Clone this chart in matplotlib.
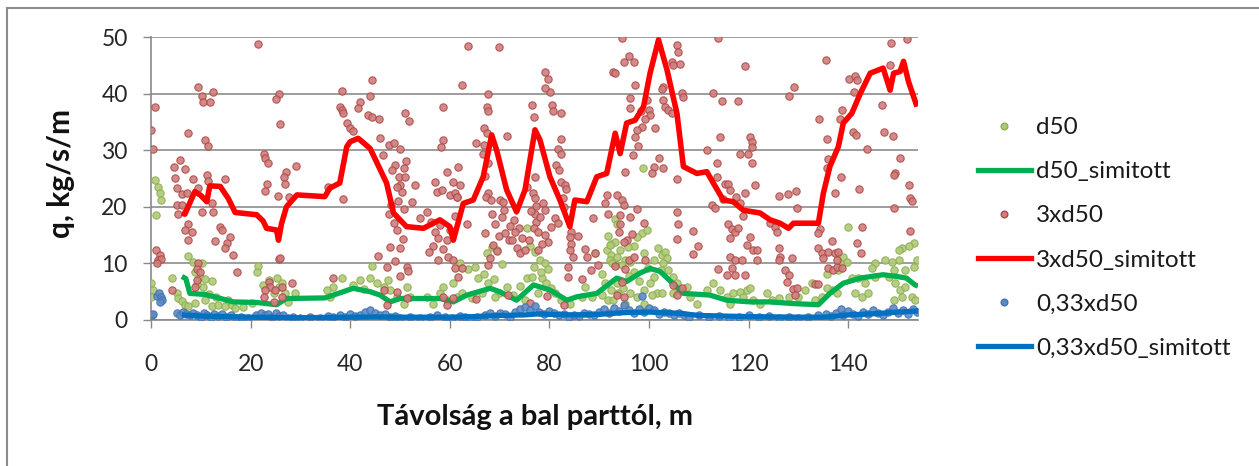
import numpy as np
import matplotlib
matplotlib.use("Agg")
import matplotlib.pyplot as plt
from matplotlib.lines import Line2D

# ---------------- data ----------------
d50_pts = [
    (0.8,24.7),(1.5,23.5),(1.8,22.4),(2.1,21.2),(1.1,18.5),(0.1,6.5),(0.5,5.3),(0.0,4.1),
    (7.5,11.3),(8.5,10.2),(10.2,10.1),(8.8,8.5),(9.8,7.6),(10.8,7.2),(12.2,6.9),(10.5,5.9),
    (4.2,7.4),(5.2,4.8),(5.5,3.9),(6.2,3.3),(6.8,2.7),(7.5,2.4),(8.8,3.0),(10.8,3.6),
    (12.2,2.4),(13.5,2.7),(14.9,2.4),(16.2,2.7),(16.9,2.1),(21.5,9.6),(21.2,8.5),
    (23.6,7.1),(25.2,7.4),(25.6,5.9),(24.6,4.7),(27.0,4.7),(27.6,3.2),(28.9,4.7),
    (9.3,6.3),(11.6,4.6),(13.0,4.1),(15.5,3.6),(18.5,2.3),(20.2,3.0),(22.4,6.2),(26.3,6.6),
    (44.3,9.5),(41.9,7.1),(43.9,7.4),(45.3,6.5),(46.7,5.9),(38.3,7.4),(36.6,5.9),(35.3,5.3),
    (36.0,4.1),(48.0,5.3),(49.3,4.1),(51.3,5.9),(52.0,4.1),(50.7,2.9),(55.4,4.1),(58.0,4.7),
    (58.7,5.9),(59.4,3.5),(60.7,6.5),(61.4,4.1),(56.7,2.9),(40.5,6.2),(42.8,5.4),(47.5,7.0),
    (62.0,10.0),(63.7,9.0),(65.1,9.3),(65.7,7.4),(67.7,6.5),(66.4,4.7),(64.4,3.9),(62.4,4.7),
    (71.4,5.9),(69.8,4.7),(69.1,4.1),(67.4,11.8),(68.4,12.9),(69.4,12.4),(70.4,9.9),
    (75.4,16.2),(76.1,13.0),(77.1,12.1),(78.1,10.6),(79.1,10.0),(79.8,9.0),(75.4,7.4),
    (76.4,7.6),(78.5,7.4),(79.4,6.5),(80.4,5.6),(81.1,4.7),(82.4,3.5),(77.8,4.7),(75.1,3.5),
    (87.2,5.9),(88.5,4.1),(86.5,4.1),(84.1,2.9),(91.8,14.8),(92.4,13.5),(91.5,12.4),
    (92.4,11.5),(92.1,10.6),(93.1,10.0),(90.5,8.2),(91.1,6.5),(92.4,5.3),(90.5,4.4),
    (91.8,3.5),(89.1,11.8),(66.8,8.2),(68.9,7.3),(72.6,4.5),(74.0,6.0),(76.9,9.4),(78.3,8.5),
    (98.7,26.8),(93.2,17.9),(93.5,17.0),(98.5,15.3),(99.5,15.9),(97.5,14.7),(93.2,13.8),
    (92.2,13.2),(94.2,12.3),(93.5,11.2),(95.2,10.6),(92.5,10.0),(94.5,9.7),(96.2,10.3),
    (96.9,13.0),(98.9,11.8),(100.9,10.6),(102.6,11.5),(103.3,12.1),(103.6,10.9),(102.9,10.0),
    (102.3,8.8),(100.9,7.6),(100.2,6.5),(101.5,4.7),(100.5,4.4),(98.9,5.3),(103.9,8.8),
    (104.9,7.6),(105.6,6.5),(106.2,5.3),(104.9,4.7),(102.6,4.7),(97.5,4.1),(96.2,4.7),
    (94.8,5.6),(93.5,6.5),(93.8,4.7),(92.8,3.5),(95.2,2.9),(98.9,2.9),(107.6,5.9),(108.2,4.1),
    (109.6,2.9),(111.6,5.3),(112.9,6.5),(114.3,5.3),(115.6,4.1),(116.9,4.7),(118.3,5.0),
    (118.9,4.1),(119.6,5.3),(120.3,5.6),(120.9,3.5),(122.3,2.9),(123.6,4.7),(116.3,2.9),
    (95.8,12.9),(97.0,8.4),(99.8,9.2),(101.8,12.8),(97.9,6.9),(95.9,7.8),
    (139.9,16.4),(153.1,13.6),(152.1,13.0),(150.7,12.7),(150.1,12.4),(153.7,10.6),(153.1,9.3),
    (151.4,8.8),(150.1,10.6),(148.7,10.3),(147.4,10.6),(145.4,10.0),(149.1,8.8),(148.1,7.6),
    (149.4,6.5),(150.4,5.3),(150.7,4.1),(149.1,3.5),(151.4,5.9),(152.8,4.1),(153.4,3.5),
    (139.0,11.2),(139.7,10.3),(138.4,10.0),(138.0,8.8),(135.7,8.2),(140.7,7.4),(142.0,7.4),
    (143.4,6.5),(144.7,9.1),(145.4,7.6),(141.4,4.7),(142.7,4.1),(144.0,4.7),(136.7,5.3),
    (137.7,4.7),(135.7,5.6),(134.7,4.1),(133.3,3.5),(130.0,4.1),(128.0,4.1),(126.0,3.8),
    (124.6,3.5),(131.3,5.3),(132.7,6.5),
]

d50_sm_x = [6.2, 7.0, 7.8, 11.0, 16.5, 21.2, 25.2, 27.2, 34.9, 38.6, 40.6, 44.0, 46.0, 48.0,
            50.0, 58.0, 60.7, 63.4, 68.1, 70.0, 73.4, 76.8, 80.1, 83.5, 85.5, 89.5, 93.5,
            95.5, 98.2, 100.2, 102.2, 106.9, 112.2, 115.6, 120.3, 124.3, 129.0, 134.0,
            136.3, 139.0, 142.4, 147.0, 149.7, 151.7, 153.4, 154.0]
d50_sm_y = [7.7, 7.3, 4.7, 4.5, 3.2, 3.1, 2.7, 3.8, 3.9, 5.0, 5.6, 5.0, 4.4, 3.2,
            3.8, 3.8, 3.2, 4.4, 5.6, 5.0, 3.5, 6.2, 5.3, 3.5, 4.1, 4.7, 7.4,
            6.8, 8.3, 9.1, 8.6, 4.7, 4.4, 3.5, 3.2, 3.2, 2.9, 2.7,
            4.7, 6.5, 7.4, 8.0, 7.7, 7.4, 6.2, 6.0]

d3_pts = [
    (21.5,48.8),(9.5,41.2),(10.2,39.5),(10.5,38.6),(11.9,38.6),(12.5,40.3),(0.8,37.6),
    (0.1,33.6),(0.5,30.2),(7.5,33.1),(10.8,31.8),(11.5,30.7),(25.6,40.0),(25.1,39.1),
    (26.0,34.6),(22.6,29.4),(22.9,28.6),(23.4,27.7),(29.2,27.2),(27.2,26.2),(26.8,25.3),
    (26.9,24.1),(23.2,24.1),(22.9,22.8),(25.4,21.9),(27.8,21.7),(5.8,28.2),(4.7,27.1),
    (6.8,26.6),(4.8,25.1),(5.2,23.4),(8.5,24.9),(11.2,25.6),(11.4,24.6),(14.9,24.9),
    (9.5,23.3),(6.2,22.2),(7.2,22.5),(5.2,20.3),(6.2,20.3),(5.5,18.8),(12.2,20.6),
    (12.5,19.1),(10.2,19.0),(7.5,17.0),(6.8,15.9),(8.2,15.6),(7.5,14.1),(13.9,16.4),
    (14.2,15.9),(12.9,14.0),(15.9,14.6),(15.2,13.6),(14.9,12.7),(16.5,11.5),(1.1,12.4),
    (1.8,11.5),(1.5,10.6),(2.1,10.7),(1.3,10.1),(9.5,10.0),(9.2,9.0),(9.8,8.5),(8.8,5.9),
    (9.2,7.1),(4.2,5.3),(17.2,8.4),(25.6,10.7),(25.9,11.0),(23.6,6.8),(23.9,5.9),(22.9,5.3),
    (24.9,5.3),(26.3,5.9),(28.3,6.5),(22.6,4.1),(24.6,3.2),(26.3,4.1),
    (44.3,42.4),(38.3,40.5),(38.0,37.6),(38.3,37.1),(38.6,36.6),(42.0,38.6),(41.6,37.4),
    (43.9,39.5),(43.6,36.2),(44.3,35.8),(45.7,35.6),(39.3,34.8),(40.0,34.0),(40.6,33.4),
    (51.0,36.5),(51.9,35.2),(46.0,32.1),(47.7,30.9),(48.7,31.3),(49.9,30.2),(51.2,28.1),
    (46.5,29.1),(49.0,27.4),(48.3,26.5),(49.7,25.3),(50.0,23.8),(50.4,22.7),(50.7,26.9),
    (51.0,25.3),(49.3,23.5),(38.6,21.3),(35.6,23.5),(47.7,18.8),(48.7,17.1),(49.3,15.9),
    (50.0,12.7),(48.0,12.9),(58.7,37.7),(58.7,31.8),(58.3,30.6),(61.7,27.1),(59.4,26.2),
    (57.4,22.7),(58.4,23.0),(60.0,22.1),(61.0,22.4),(61.4,21.8),(53.0,23.9),(57.0,24.4),
    (60.7,24.3),(55.4,19.0),(57.0,15.6),(57.7,14.4),(59.4,14.1),(56.7,13.0),(58.7,12.6),
    (59.7,11.2),(60.7,10.6),(61.0,9.1),(57.7,10.6),(45.5,11.3),(47.3,9.3),(51.3,9.4),
    (51.6,8.7),(50.0,7.8),(36.5,7.4),(46.7,5.3),(47.3,2.6),(49.3,4.9),(51.3,3.8),(58.7,4.1),
    (59.4,2.6),(60.7,3.8),(49.6,21.0),(50.8,19.6),(48.1,20.4),(56.2,17.4),(58.1,16.8),
    (60.1,15.9),(52.4,20.8),(54.0,18.1),(55.8,12.1),(50.6,14.3),(49.0,10.4),
    (63.6,48.4),(69.8,48.2),(62.4,41.5),(67.7,39.9),(67.4,37.7),(67.6,36.9),(66.9,34.0),
    (67.4,33.0),(71.4,32.5),(65.2,31.3),(66.9,30.9),(66.7,29.3),(67.7,27.7),(67.1,25.4),
    (67.6,22.4),(67.2,21.8),(68.3,21.2),(68.4,18.8),(70.1,21.2),(70.7,20.9),(69.1,17.0),
    (70.4,18.2),(63.4,17.0),(62.0,23.9),(61.4,21.8),(61.0,18.3),(69.8,14.8),(71.1,15.4),
    (71.8,14.2),(68.7,13.3),(69.4,12.2),(68.1,11.0),(67.7,9.8),(67.1,15.4),(72.8,17.6),
    (73.8,16.2),(73.1,15.6),(72.4,14.1),(74.4,14.4),(73.4,12.7),(74.1,11.8),(75.1,12.4),
    (79.1,43.9),(79.8,42.5),(80.1,40.2),(79.1,41.0),(76.5,38.0),(76.8,35.8),(80.5,38.0),
    (80.8,36.9),(82.3,36.5),(82.4,31.9),(81.8,30.3),(82.3,29.4),(81.4,27.3),(81.9,26.5),
    (82.4,24.3),(83.1,23.9),(83.4,23.1),(82.7,21.5),(77.1,25.3),(76.6,22.4),(77.1,21.5),
    (77.4,20.1),(78.8,20.6),(79.1,19.4),(77.1,18.8),(77.4,17.3),(76.8,16.2),(77.8,15.6),
    (79.1,15.0),(79.8,13.8),(78.5,13.5),(77.8,12.4),(75.4,23.5),(81.1,18.0),(81.8,17.2),
    (84.4,15.6),(84.1,14.7),(84.4,13.5),(84.1,12.4),(84.7,11.2),(83.8,9.4),(87.2,12.6),
    (87.5,11.2),(89.1,11.8),(88.4,8.9),(89.8,9.8),(88.8,18.0),(91.5,22.1),(91.1,20.6),
    (91.8,18.7),(92.8,43.9),(86.5,7.3),(83.8,7.6),(62.4,9.1),(61.7,7.6),(70.9,19.5),
    (72.0,16.6),(75.9,14.1),(76.2,19.3),(78.2,18.2),(80.3,16.4),(83.0,19.9),(85.8,14.9),
    (65.3,3.7),(71.6,4.4),(76.0,3.0),(79.6,4.2),(82.9,2.6),
    (94.5,49.8),(113.9,49.8),(105.6,48.6),(105.9,47.4),(106.2,45.3),(104.6,45.6),(104.9,45.0),
    (95.9,46.6),(96.9,45.6),(94.9,45.5),(93.2,43.7),(97.2,41.5),(119.3,44.9),(102.9,41.2),
    (102.5,40.9),(106.6,40.1),(106.9,39.4),(112.9,40.1),(114.6,38.7),(117.9,38.7),(96.2,39.2),
    (96.2,37.4),(99.5,38.9),(99.9,37.1),(100.2,36.2),(99.2,35.6),(98.5,34.1),(97.5,33.5),
    (97.2,32.4),(102.9,38.9),(103.3,37.7),(103.9,37.1),(104.6,36.5),(96.7,29.2),(101.9,28.6),
    (100.9,27.1),(100.5,26.0),(102.9,26.8),(105.6,25.0),(114.3,32.3),(111.6,30.1),(113.6,27.7),
    (120.3,32.4),(120.6,31.5),(120.6,30.6),(119.9,29.4),(118.3,29.4),(120.6,27.8),(113.6,25.3),
    (115.3,24.1),(115.9,24.0),(119.3,22.5),(117.5,21.8),(118.3,20.7),(121.3,23.8),(112.6,20.3),
    (113.3,19.7),(93.5,22.1),(94.5,21.2),(94.9,20.3),(105.6,19.1),(105.9,17.0),(108.9,15.8),
    (105.6,14.3),(109.9,13.1),(108.9,11.7),(94.2,18.5),(96.2,18.2),(98.9,17.2),(94.2,17.0),
    (93.9,15.6),(95.5,14.2),(94.9,13.8),(115.9,17.0),(116.6,16.0),(117.2,15.6),(117.9,16.2),
    (116.2,14.4),(120.3,14.7),(119.6,13.2),(120.9,12.3),(121.6,12.3),(116.2,11.2),(117.2,10.6),
    (118.6,10.6),(116.6,9.1),(117.2,8.0),(119.3,8.0),(121.6,10.6),(95.9,10.6),(96.9,11.2),
    (99.2,10.6),(95.2,9.0),(93.2,9.6),(94.5,6.8),(93.5,4.4),(94.9,4.1),(113.9,9.0),(115.6,8.0),
    (104.9,6.2),(105.6,4.4),(106.6,5.6),(97.8,30.8),(98.3,36.9),(101.1,33.9),(95.1,26.2),
    (114.8,21.4),(116.3,22.9),(118.8,18.3),(96.6,15.2),(97.6,19.6),
    (151.7,49.6),(148.6,49.0),(135.6,46.0),(148.4,45.1),(140.2,42.5),(141.4,43.1),(141.7,42.4),
    (141.2,40.3),(129.2,41.2),(128.1,39.5),(146.7,38.0),(138.7,37.1),(138.4,35.6),(134.2,35.6),
    (140.9,33.3),(141.6,32.7),(147.2,33.3),(148.9,32.5),(135.7,31.9),(143.7,30.3),(136.0,28.5),
    (135.7,26.8),(150.4,28.7),(149.4,26.0),(149.1,25.6),(138.6,25.3),(142.2,23.1),(137.4,22.4),
    (152.2,23.8),(152.4,21.5),(152.7,21.1),(126.0,21.9),(127.9,22.3),(129.5,22.8),(129.7,19.7),
    (149.1,19.7),(124.3,17.2),(125.3,16.5),(125.6,15.6),(134.3,16.1),(134.0,15.3),(142.7,16.5),
    (152.4,15.8),(136.7,14.0),(141.7,13.6),(126.0,12.7),(126.3,11.2),(126.0,10.6),(128.7,11.0),
    (134.0,12.7),(134.7,11.8),(135.0,11.0),(136.0,12.1),(137.4,11.8),(138.0,12.1),(136.0,9.1),
    (137.0,8.8),(137.7,9.4),(138.7,9.1),(137.7,10.6),(142.6,11.8),(127.3,8.8),(128.0,7.9),
    (127.7,6.8),(129.0,5.4),(129.7,5.6),(133.3,6.3),(134.0,6.3),(129.3,4.4),
]

d3_sm_x = [6.2, 6.8, 8.8, 10.0, 11.2, 11.8, 13.9, 15.5, 16.9, 21.2, 22.5, 23.2, 25.2, 25.6,
           26.2, 27.2, 29.3, 34.9, 35.9, 37.9, 39.3, 40.0, 41.6, 44.0, 47.3, 48.7, 50.0,
           51.3, 54.7, 58.0, 60.0, 60.7, 62.0, 62.7, 64.7, 66.7, 68.4, 69.4, 71.4, 73.4,
           75.1, 77.1, 78.1, 80.1, 82.1, 84.1, 85.1, 87.5, 89.5, 91.5, 93.2, 94.2, 95.5,
           97.2, 98.9, 100.2, 101.9, 103.6, 105.6, 106.9, 109.6, 111.6, 112.9, 114.9, 116.9,
           118.9, 122.3, 124.3, 126.3, 128.0, 129.0, 134.0, 135.0, 136.3, 138.0, 139.0,
           140.7, 142.4, 144.4, 147.0, 148.4, 149.1, 150.4, 151.1, 152.1, 153.8]
d3_sm_y = [18.9, 18.7, 22.7, 22.0, 20.9, 23.7, 23.6, 21.5, 19.0, 18.6, 17.5, 16.2, 15.9, 14.1,
           17.0, 20.0, 22.1, 21.8, 23.3, 24.2, 30.6, 31.5, 32.1, 30.3, 24.2, 18.9, 17.7,
           16.5, 16.2, 17.7, 16.5, 14.1, 18.3, 20.6, 21.2, 25.3, 32.7, 30.0, 23.0, 19.1,
           23.0, 33.6, 31.8, 25.3, 21.2, 16.5, 21.2, 20.9, 25.3, 25.9, 33.0, 29.4, 34.8,
           35.3, 37.7, 43.6, 49.5, 44.2, 36.5, 27.1, 25.9, 26.2, 24.2, 21.2, 20.9,
           19.4, 18.9, 17.7, 17.1, 16.2, 17.1, 17.1, 22.4, 27.1, 30.6, 34.8,
           36.5, 40.0, 43.6, 44.5, 40.6, 43.6, 43.9, 45.7, 42.1, 37.7]

d033_pts = [
    (0.3,0.9),(0.5,1.1),(1.2,4.3),(1.6,4.7),(2.0,4.1),(2.3,3.5),(1.8,3.1),(5.2,1.2),(5.8,0.9),
    (6.5,1.4),(7.0,1.1),(7.8,0.8),(8.5,1.3),(9.2,0.9),(10.0,0.6),(10.6,1.2),(11.3,0.8),
    (12.0,0.5),(12.7,1.0),(13.5,0.7),(14.3,1.1),(15.0,0.5),(16.0,0.8),(17.0,0.4),(18.0,0.6),
    (19.5,0.3),(21.0,0.9),(22.0,1.3),(22.8,0.8),(23.5,1.0),(24.3,0.5),(25.0,1.2),(25.8,0.7),
    (26.5,0.9),(27.5,0.4),(28.5,0.6),(30.0,0.3),(32.0,0.5),(34.0,0.4),(35.5,0.7),(36.5,0.5),
    (38.0,0.8),(39.0,0.6),(40.0,1.0),(41.0,0.7),(42.0,0.9),(43.0,1.4),(44.0,1.7),(45.0,1.2),
    (46.0,0.8),(47.0,1.0),(48.0,0.5),(49.0,0.7),(50.0,0.4),(52.0,0.6),(54.0,0.3),(56.0,0.5),
    (57.5,0.8),(59.0,0.6),(60.5,0.4),(62.0,0.7),(63.0,0.5),(64.0,0.3),(65.5,0.6),(67.0,0.9),
    (68.0,1.2),(69.0,0.7),(70.0,1.3),(71.0,1.0),(72.0,0.6),(73.0,1.4),(74.0,2.0),(75.0,2.3),
    (76.0,1.8),(77.0,2.5),(78.0,1.5),(79.0,1.0),(80.0,1.6),(81.0,1.2),(82.0,0.8),(83.0,1.1),
    (84.0,0.6),(85.0,0.9),(86.0,0.7),(87.0,1.3),(88.0,1.0),(89.0,0.8),(90.0,1.5),(91.0,1.9),
    (92.0,1.2),(93.0,2.2),(94.0,1.6),(95.0,2.6),(96.0,1.8),(97.0,1.2),(98.0,2.0),(98.5,4.3),
    (99.0,1.5),(100.0,2.2),(101.0,1.7),(102.0,1.0),(103.0,1.5),(104.0,1.2),(105.0,0.8),
    (106.0,1.3),(107.0,0.9),(108.0,0.6),(110.0,0.8),(112.0,0.5),(114.0,0.7),(116.0,0.4),
    (118.0,0.6),(120.0,0.9),(122.0,0.5),(124.0,0.7),(126.0,0.4),(128.0,0.6),(130.0,0.3),
    (132.0,0.5),(134.0,0.8),(135.5,1.1),(136.5,0.7),(137.5,1.3),(138.5,1.9),(139.0,0.9),
    (140.0,1.6),(141.0,1.1),(142.0,0.7),(143.0,1.4),(144.0,1.0),(145.0,1.7),(146.0,1.2),
    (147.0,0.8),(148.0,1.5),(149.0,2.1),(150.0,1.3),(151.0,1.8),(152.0,1.0),(153.0,2.0),
    (153.7,1.4),
]

d033_sm_x = [6.2, 8, 10, 15, 20, 25, 30, 35, 40, 45, 50, 55, 60, 65, 70, 75, 78, 80, 85, 90,
             95, 100, 103, 106, 110, 115, 120, 125, 130, 135, 138, 140, 145, 150, 154]
d033_sm_y = [0.9, 0.8, 0.7, 0.6, 0.5, 0.45, 0.4, 0.45, 0.5, 0.55, 0.5, 0.5, 0.5, 0.6, 0.8,
             0.9, 1.1, 1.0, 0.9, 1.0, 1.3, 1.4, 1.3, 1.2, 0.8, 0.7, 0.6, 0.55, 0.5, 0.5,
             0.7, 0.9, 1.1, 1.4, 1.6]

x_ticks = [0, 20, 40, 60, 80, 100, 120, 140]
y_ticks = [0, 10, 20, 30, 40, 50]
labels = ["d50", "d50_simitott", "3xd50", "3xd50_simitott", "0,33xd50", "0,33xd50_simitott"]
x_label = "Távolság a bal parttól, m"
y_label = "q, kg/s/m"

# ---------------- plot ----------------
plt.rcParams['font.family'] = ['Lato', 'DejaVu Sans']
W, H = 1259, 466
fig = plt.figure(figsize=(W / 100, H / 100), dpi=100)
ax = fig.add_axes([151 / W, 1 - 320 / H, (918 - 151) / W, (320 - 37) / H])

g_face, g_edge = '#AFC97A', '#8FAF50'
r_face, r_edge = '#CC7F7D', '#B04A48'
b_face, b_edge = '#5B8BC6', '#4472B0'

d50 = np.array(d50_pts).T
d3 = np.array(d3_pts).T
d033 = np.array(d033_pts).T

ax.scatter(d50[0], d50[1], s=28, facecolor=g_face, edgecolor=g_edge, linewidth=0.8,
           alpha=0.9, zorder=3)
ax.plot(d50_sm_x, d50_sm_y, color='#00B050', lw=3.8, solid_capstyle='butt', zorder=4)
ax.scatter(d3[0], d3[1], s=28, facecolor=r_face, edgecolor=r_edge, linewidth=0.8,
           alpha=0.9, zorder=5)
ax.plot(d3_sm_x, d3_sm_y, color='#FF0000', lw=4.0, solid_capstyle='butt', zorder=6)
ax.scatter(d033[0], d033[1], s=28, facecolor=b_face, edgecolor=b_edge, linewidth=0.8,
           alpha=0.9, zorder=7)
ax.plot(d033_sm_x, d033_sm_y, color='#0070C0', lw=3.8, solid_capstyle='butt', zorder=8)

ax.set_xlim(0, 154)
ax.set_ylim(0, 50)
ax.set_xticks(x_ticks)
ax.set_yticks(y_ticks)
ax.tick_params(axis='both', labelsize=16.5, colors='#262626', direction='out', length=5.8,
               width=1.0)
ax.tick_params(axis='both', color='#898989')
ax.tick_params(axis='y', pad=11)
ax.tick_params(axis='x', pad=19)
ax.yaxis.grid(True, color='#8C8C8C', lw=1.2)
ax.set_axisbelow(True)
for s in ['top', 'right']:
    ax.spines[s].set_visible(False)
for s in ['left', 'bottom']:
    ax.spines[s].set_color('#898989')
    ax.spines[s].set_linewidth(1.2)

fig.text(535 / W, 1 - 417 / H, x_label, ha='center', va='center', fontsize=21,
         fontweight='bold', color='#111111')
fig.text(61 / W, 1 - 174 / H, y_label, ha='center', va='center', rotation=90, fontsize=21.5,
         fontweight='bold', color='#111111')

handles = [
    Line2D([], [], ls='none', marker='o', markersize=4.8, markerfacecolor=g_face,
           markeredgecolor=g_edge),
    Line2D([], [], color='#00B050', lw=3.8),
    Line2D([], [], ls='none', marker='o', markersize=4.8, markerfacecolor=r_face,
           markeredgecolor=r_edge),
    Line2D([], [], color='#FF0000', lw=3.8),
    Line2D([], [], ls='none', marker='o', markersize=4.8, markerfacecolor=b_face,
           markeredgecolor=b_edge),
    Line2D([], [], color='#0070C0', lw=3.8),
]
fig.legend(handles, labels, loc='center left', bbox_to_anchor=(968 / W, 1 - 238 / H),
           frameon=False, fontsize=17.5, handlelength=2.2, handletextpad=0.2,
           labelspacing=0.95, borderaxespad=0, labelcolor='#1a1a1a')

# figure frame (left and top edges visible)
fig.add_artist(Line2D([7 / W, 7 / W], [0, 1 - 8 / H], transform=fig.transFigure,
                      color='#8C8C8C', lw=1.5))
fig.add_artist(Line2D([7 / W, 1], [1 - 8 / H, 1 - 8 / H], transform=fig.transFigure,
                      color='#8C8C8C', lw=1.5))

fig.savefig('out.png', dpi=100)
